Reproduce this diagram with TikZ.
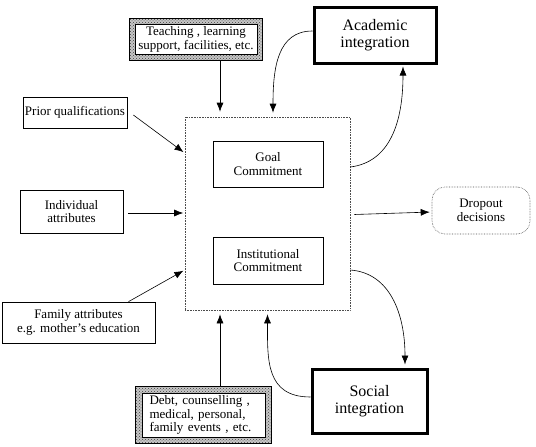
\documentclass[tikz,border=0pt]{standalone}
\usepackage{fontspec}
\setmainfont{Liberation Serif}
\usetikzlibrary{arrows.meta,positioning,fit,patterns,backgrounds}

\begin{document}
\begin{tikzpicture}[x=1pt,y=-1pt]
\tikzstyle{box}=[draw, line width=0.7pt, inner sep=0pt, align=center, font=\fontsize{13}{13.5}\selectfont]
\tikzstyle{bbox}=[box, line width=3pt, font=\fontsize{16}{16.5}\selectfont]
\tikzstyle{pbox}=[box, fill=white, line width=0.5pt]
\tikzstyle{pframe}=[draw, line width=0.7pt, inner sep=0pt, preaction={fill=gray!45}, pattern=crosshatch dots, pattern color=black!75]
\tikzstyle{dbox}=[draw, densely dotted, line width=0.6pt, inner sep=0pt, draw=black!70]
\tikzstyle{arr}=[-{Latex[length=9pt,width=7pt]}, line width=0.6pt]

\useasboundingbox (0,0) rectangle (536,447);

% inputs on the left
\node[box, minimum width=104, minimum height=31] (prior) at (75,112.5) {Prior qualifications};
\node[box, minimum width=103, minimum height=43] (indiv) at (71.5,211.5) {Individual\\attributes};
\node[box, minimum width=153, minimum height=41] (family) at (78.5,322.5) {Family attributes\\e.g. mother's education};

% shaded boxes, top and bottom
\node[pbox, minimum width=122, minimum height=30] (teach) at (196,39.5) {Teaching , learning\\support, facilities, etc.};
\node[pbox, minimum width=123, minimum height=44, text width=108, align=left] (debt) at (203.5,415) {Debt, counselling ,\\medical, personal,\\family events , etc.};
\begin{scope}[on background layer]
\node[pframe, fit=(teach), inner sep=5.5pt] (teachf) {};
\node[pframe, fit=(debt), inner sep=6.5pt] (debtf) {};
\end{scope}

% centre
\node[dbox, minimum width=165, minimum height=193] (main) at (267.5,213.5) {};
\node[box, minimum width=110, minimum height=46] (goal) at (268,164) {Goal\\Commitment};
\node[box, minimum width=110, minimum height=47] (inst) at (268,260.5) {Institutional\\Commitment};

% right side
\node[bbox, minimum width=122, minimum height=56] (acad) at (375,35) {Academic\\integration};
\node[bbox, minimum width=115, minimum height=64] (social) at (369.5,401) {Social\\integration};
\node[dbox, rounded corners=13pt, minimum width=98, minimum height=47, align=center, font=\fontsize{13}{13.5}\selectfont] (drop) at (481,210.5) {Dropout\\decisions};

\draw[arr, shorten >=1.5pt] ([xshift=6pt,yshift=-2.5pt]prior.east) -- ([yshift=60.5pt]main.west);
\draw[arr, shorten >=1.5pt] ([xshift=5pt,yshift=-1.5pt]indiv.east) -- ([yshift=0.5pt]main.west);
\draw[arr, shorten >=1.5pt] ([xshift=50pt]family.north) -- ([yshift=-56.5pt]main.west);
\draw[arr, shorten >=5pt] ([xshift=24pt]teachf.south) -- ([xshift=-47.5pt]main.north);
\draw[arr, shorten >=4pt] ([xshift=16.5pt]debtf.north) -- ([xshift=-47.5pt]main.south);
\draw[arr, shorten >=2pt] ([xshift=4pt,yshift=-1pt]main.east) -- ([yshift=-1.5pt]drop.west);

\draw[arr] ([yshift=4pt]acad.west) .. controls +(-35,0) and +(0,-45) .. ([xshift=5.5pt,yshift=4pt]main.north);
\draw[arr] ([yshift=46.5pt]main.east) .. controls +(40,-5) and +(0,55) .. ([xshift=28pt,yshift=-2pt]acad.south);
\draw[arr] ([yshift=-56.5pt]main.east) .. controls +(40,3) and +(0,-50) .. ([xshift=35.5pt,yshift=3pt]social.north);
\draw[arr] ([yshift=4pt]social.west) .. controls +(-45,0) and +(0,45) .. ([yshift=-4pt]main.south);
\end{tikzpicture}
\end{document}
